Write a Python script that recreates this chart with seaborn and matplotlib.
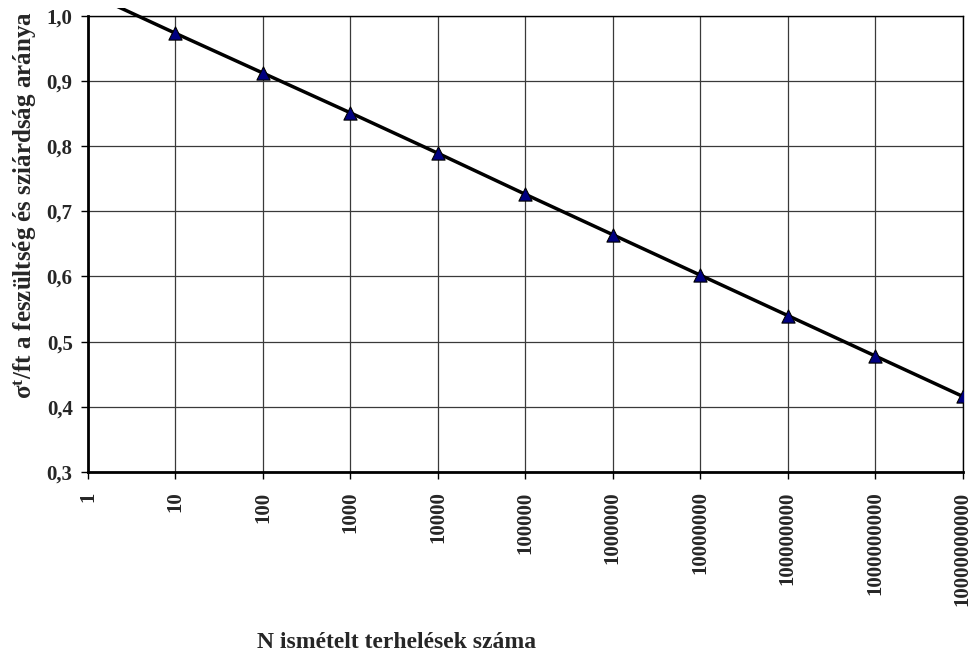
import matplotlib
matplotlib.use("Agg")
import matplotlib.pyplot as plt
from matplotlib.patches import Rectangle
import seaborn as sns
import pandas as pd

# Number of repeated loads and the stress / strength ratio
cycles = [1, 10, 100, 1000, 10000, 100000, 1000000, 10000000,
          100000000, 1000000000, 10000000000]
ratio = [1.035, 0.973, 0.912, 0.851, 0.789, 0.726, 0.664, 0.602,
         0.540, 0.478, 0.416]
x_ticks = [1, 10, 100, 1000, 10000, 100000, 1000000, 10000000,
           100000000, 1000000000, 10000000000]
y_ticks = [0.3, 0.4, 0.5, 0.6, 0.7, 0.8, 0.9, 1.0]

df = pd.DataFrame({"N": cycles, "ratio": ratio})

sns.set_style("white")
plt.rcParams["font.family"] = ["Liberation Serif", "DejaVu Serif"]
plt.rcParams["font.weight"] = "bold"
plt.rcParams["mathtext.fontset"] = "custom"
plt.rcParams["mathtext.rm"] = "Liberation Serif:bold"
plt.rcParams["mathtext.it"] = "Liberation Serif:bold"
plt.rcParams["mathtext.bf"] = "Liberation Serif:bold"

fig = plt.figure(figsize=(9.72, 6.54), dpi=100)
ax = fig.add_axes([88 / 972, 1 - 472 / 654, (962.7 - 88) / 972, (472 - 15.7) / 654])

ax.set_xscale("log")
ax.set_xlim(1, 1e10)
ax.set_ylim(0.3, 1.0)

# Grid
ax.grid(True, which="major", color="#3a3a3a", linewidth=0.9)
ax.set_axisbelow(True)
ax.minorticks_off()

# Trend line (allowed to run slightly above the plot frame)
sns.lineplot(data=df, x="N", y="ratio", ax=ax, color="black", linewidth=2.5,
             legend=False, zorder=3)
line = ax.lines[-1]
clip = Rectangle((0, 0), 1, 1.017, transform=ax.transAxes, visible=False)
ax.add_patch(clip)
line.set_clip_path(clip)

# Markers
sns.scatterplot(data=df, x="N", y="ratio", ax=ax, marker="^", s=90,
                color="#000080", edgecolor="black", linewidth=0.8,
                legend=False, zorder=4)

ax.set_xticks(x_ticks)
ax.set_xticklabels([str(v) for v in x_ticks], rotation=90, fontsize=15,
                   fontweight="bold")
ax.set_yticks(y_ticks)
ax.set_yticklabels([f"{v:.1f}".replace(".", ",") for v in y_ticks],
                   fontsize=15, fontweight="bold")
ax.tick_params(axis="both", direction="out", length=5, width=1, color="black",
               bottom=True, left=True, pad=4)
ax.tick_params(axis="x", pad=9)
ax.tick_params(axis="y", pad=6)

for side in ["top", "right"]:
    ax.spines[side].set_color("black")
    ax.spines[side].set_linewidth(1.0)
for side in ["left", "bottom"]:
    ax.spines[side].set_color("black")
    ax.spines[side].set_linewidth(2.0)

ax.set_xlabel("")
ax.set_ylabel("")

fig.text(397 / 972, 1 - 648 / 654, "N ismételt terhelések száma",
         ha="center", va="baseline", fontsize=17, fontweight="bold")
fig.text(25 / 972, 1 - 205 / 654,
         r"σ$^{\mathrm{t}}$/ft a feszültség és sziárdság aránya",
         ha="center", va="center", rotation=90, fontsize=18, fontweight="bold")

fig.savefig("out.png", dpi=100)
